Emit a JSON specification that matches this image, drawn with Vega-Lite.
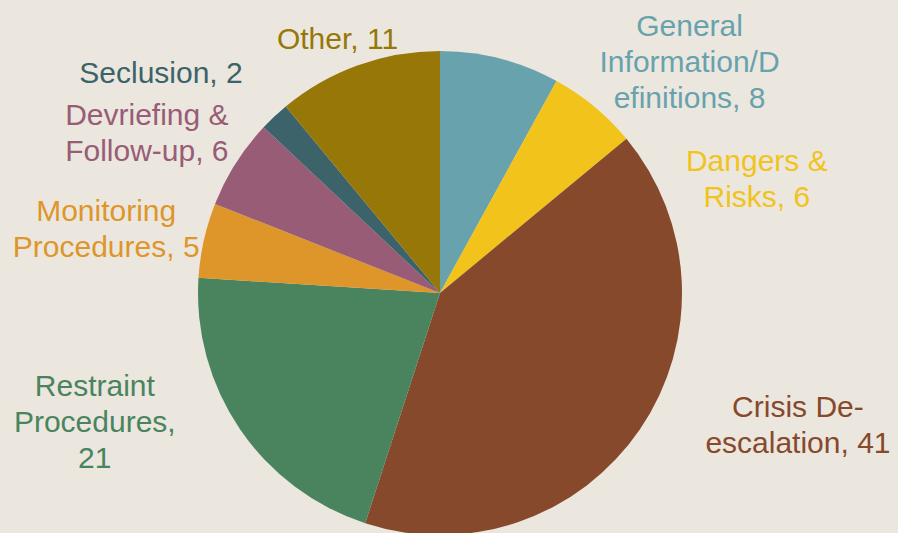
{
  "$schema": "https://vega.github.io/schema/vega-lite/v6.json",
  "width": 880,
  "height": 480,
  "autosize": {"type": "none"},
  "padding": {"left": 0, "top": 53, "right": 18, "bottom": 0},
  "background": "#EBE7DF",
  "config": {"view": {"stroke": null}},
  "data": {
    "values": [
      {"ord": 1, "category": "General Information/Definitions", "value": 8, "label": ["General", "Information/D", "efinitions, 8"]},
      {"ord": 2, "category": "Dangers & Risks", "value": 6, "label": ["Dangers &", "Risks, 6"]},
      {"ord": 3, "category": "Crisis De-escalation", "value": 41, "label": ["Crisis De-", "escalation, 41"]},
      {"ord": 4, "category": "Restraint Procedures", "value": 21, "label": ["Restraint", "Procedures,", "21"]},
      {"ord": 5, "category": "Monitoring Procedures", "value": 5, "label": ["Monitoring", "Procedures, 5"]},
      {"ord": 6, "category": "Devriefing & Follow-up", "value": 6, "label": ["Devriefing &", "Follow-up, 6"]},
      {"ord": 7, "category": "Seclusion", "value": 2, "label": ["Seclusion, 2"]},
      {"ord": 8, "category": "Other", "value": 11, "label": ["Other, 11"]}
    ]
  },
  "encoding": {
    "theta": {"field": "value", "type": "quantitative", "stack": true},
    "order": {"field": "ord", "type": "quantitative", "sort": "ascending"},
    "color": {
      "field": "category",
      "type": "nominal",
      "legend": null,
      "scale": {
        "domain": ["General Information/Definitions", "Dangers & Risks", "Crisis De-escalation", "Restraint Procedures", "Monitoring Procedures", "Devriefing & Follow-up", "Seclusion", "Other"],
        "range": ["#68A2AD", "#F2C31A", "#86492C", "#4A845F", "#DE962B", "#995C76", "#3B6369", "#967707"]
      }
    }
  },
  "layer": [
    {"mark": {"type": "arc", "outerRadius": 242}},
    {
      "mark": {"type": "text", "radius": 340, "dx": 165, "dy": 63, "font": "Liberation Sans", "fontSize": 30, "lineHeight": 36, "align": "center", "baseline": "middle"},
      "encoding": {"text": {"condition": {"test": "datum.category === 'General Information/Definitions'", "field": "label"}, "value": ""}}
    },
    {
      "mark": {"type": "text", "radius": 337, "dx": 102, "dy": 129, "font": "Liberation Sans", "fontSize": 30, "lineHeight": 36, "align": "center", "baseline": "middle"},
      "encoding": {"text": {"condition": {"test": "datum.category === 'Dangers & Risks'", "field": "label"}, "value": ""}}
    },
    {
      "mark": {"type": "text", "radius": 382, "dx": 42, "dy": -100, "font": "Liberation Sans", "fontSize": 30, "lineHeight": 36, "align": "center", "baseline": "middle"},
      "encoding": {"text": {"condition": {"test": "datum.category === 'Crisis De-escalation'", "field": "label"}, "value": ""}}
    },
    {
      "mark": {"type": "text", "radius": 369, "dx": -40, "dy": -113, "font": "Liberation Sans", "fontSize": 30, "lineHeight": 36, "align": "center", "baseline": "middle"},
      "encoding": {"text": {"condition": {"test": "datum.category === 'Restraint Procedures'", "field": "label"}, "value": ""}}
    },
    {
      "mark": {"type": "text", "radius": 340, "dx": -2, "dy": -7, "font": "Liberation Sans", "fontSize": 30, "lineHeight": 36, "align": "center", "baseline": "middle"},
      "encoding": {"text": {"condition": {"test": "datum.category === 'Monitoring Procedures'", "field": "label"}, "value": ""}}
    },
    {
      "mark": {"type": "text", "radius": 333, "dx": -12, "dy": 1, "font": "Liberation Sans", "fontSize": 30, "lineHeight": 36, "align": "center", "baseline": "middle"},
      "encoding": {"text": {"condition": {"test": "datum.category === 'Devriefing & Follow-up'", "field": "label"}, "value": ""}}
    },
    {
      "mark": {"type": "text", "radius": 355, "dx": -36, "dy": 40, "font": "Liberation Sans", "fontSize": 30, "lineHeight": 36, "align": "center", "baseline": "middle"},
      "encoding": {"text": {"condition": {"test": "datum.category === 'Seclusion'", "field": "label"}, "value": ""}}
    },
    {
      "mark": {"type": "text", "radius": 273, "dx": -10, "dy": 4, "font": "Liberation Sans", "fontSize": 30, "lineHeight": 36, "align": "center", "baseline": "middle"},
      "encoding": {"text": {"condition": {"test": "datum.category === 'Other'", "field": "label"}, "value": ""}}
    }
  ]
}
